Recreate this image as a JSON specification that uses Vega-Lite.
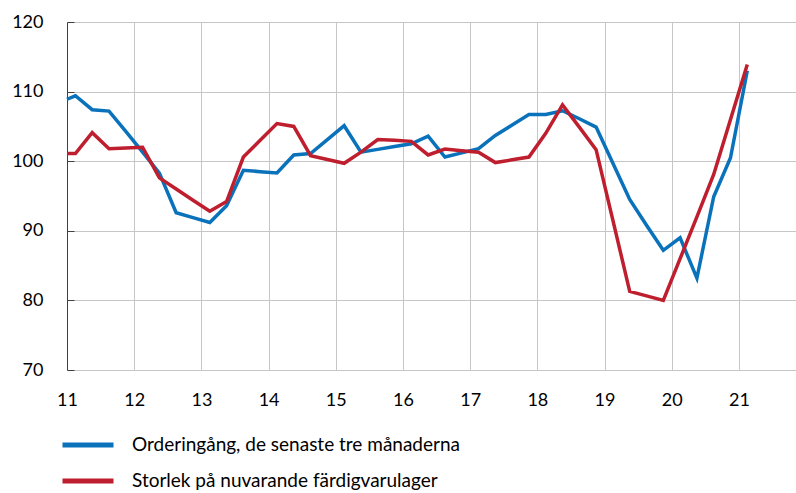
{
  "$schema": "https://vega.github.io/schema/vega-lite/v6.json",
  "width": 729,
  "height": 348,
  "autosize": {"type": "none"},
  "padding": {"left": 67, "top": 22, "right": 0, "bottom": 123},
  "background": "white",
  "config": {
    "view": {"stroke": null},
    "font": "Lato",
    "axis": {"labelFont": "Lato", "labelFontSize": 18, "labelColor": "#000000", "gridColor": "#c6c6c6", "gridWidth": 1, "title": null},
    "legend": {"labelFont": "Lato", "labelFontSize": 19, "labelColor": "#000000"}
  },
  "data": {
    "values": [
      {"t": 11.0, "serie": "Orderingång, de senaste tre månaderna", "v": 108.9},
      {"t": 11.125, "serie": "Orderingång, de senaste tre månaderna", "v": 109.4},
      {"t": 11.375, "serie": "Orderingång, de senaste tre månaderna", "v": 107.4},
      {"t": 11.625, "serie": "Orderingång, de senaste tre månaderna", "v": 107.2},
      {"t": 11.875, "serie": "Orderingång, de senaste tre månaderna", "v": 104.3},
      {"t": 12.125, "serie": "Orderingång, de senaste tre månaderna", "v": 101.3},
      {"t": 12.375, "serie": "Orderingång, de senaste tre månaderna", "v": 98.3},
      {"t": 12.625, "serie": "Orderingång, de senaste tre månaderna", "v": 92.6},
      {"t": 12.875, "serie": "Orderingång, de senaste tre månaderna", "v": 91.9},
      {"t": 13.125, "serie": "Orderingång, de senaste tre månaderna", "v": 91.2},
      {"t": 13.375, "serie": "Orderingång, de senaste tre månaderna", "v": 93.6},
      {"t": 13.625, "serie": "Orderingång, de senaste tre månaderna", "v": 98.7},
      {"t": 13.875, "serie": "Orderingång, de senaste tre månaderna", "v": 98.5},
      {"t": 14.125, "serie": "Orderingång, de senaste tre månaderna", "v": 98.3},
      {"t": 14.375, "serie": "Orderingång, de senaste tre månaderna", "v": 100.9},
      {"t": 14.625, "serie": "Orderingång, de senaste tre månaderna", "v": 101.1},
      {"t": 14.875, "serie": "Orderingång, de senaste tre månaderna", "v": 103.1},
      {"t": 15.125, "serie": "Orderingång, de senaste tre månaderna", "v": 105.1},
      {"t": 15.375, "serie": "Orderingång, de senaste tre månaderna", "v": 101.3},
      {"t": 15.625, "serie": "Orderingång, de senaste tre månaderna", "v": 101.7},
      {"t": 15.875, "serie": "Orderingång, de senaste tre månaderna", "v": 102.1},
      {"t": 16.125, "serie": "Orderingång, de senaste tre månaderna", "v": 102.5},
      {"t": 16.375, "serie": "Orderingång, de senaste tre månaderna", "v": 103.6},
      {"t": 16.625, "serie": "Orderingång, de senaste tre månaderna", "v": 100.6},
      {"t": 16.875, "serie": "Orderingång, de senaste tre månaderna", "v": 101.2},
      {"t": 17.125, "serie": "Orderingång, de senaste tre månaderna", "v": 101.8},
      {"t": 17.375, "serie": "Orderingång, de senaste tre månaderna", "v": 103.7},
      {"t": 17.625, "serie": "Orderingång, de senaste tre månaderna", "v": 105.2},
      {"t": 17.875, "serie": "Orderingång, de senaste tre månaderna", "v": 106.7},
      {"t": 18.125, "serie": "Orderingång, de senaste tre månaderna", "v": 106.7},
      {"t": 18.375, "serie": "Orderingång, de senaste tre månaderna", "v": 107.25},
      {"t": 18.625, "serie": "Orderingång, de senaste tre månaderna", "v": 106.1},
      {"t": 18.875, "serie": "Orderingång, de senaste tre månaderna", "v": 104.9},
      {"t": 19.125, "serie": "Orderingång, de senaste tre månaderna", "v": 99.7},
      {"t": 19.375, "serie": "Orderingång, de senaste tre månaderna", "v": 94.5},
      {"t": 19.625, "serie": "Orderingång, de senaste tre månaderna", "v": 90.8},
      {"t": 19.875, "serie": "Orderingång, de senaste tre månaderna", "v": 87.2},
      {"t": 20.125, "serie": "Orderingång, de senaste tre månaderna", "v": 89.0},
      {"t": 20.375, "serie": "Orderingång, de senaste tre månaderna", "v": 83.2},
      {"t": 20.625, "serie": "Orderingång, de senaste tre månaderna", "v": 94.9},
      {"t": 20.875, "serie": "Orderingång, de senaste tre månaderna", "v": 100.5},
      {"t": 21.125, "serie": "Orderingång, de senaste tre månaderna", "v": 113.0},
      {"t": 11.0, "serie": "Storlek på nuvarande färdigvarulager", "v": 101.1},
      {"t": 11.125, "serie": "Storlek på nuvarande färdigvarulager", "v": 101.1},
      {"t": 11.375, "serie": "Storlek på nuvarande färdigvarulager", "v": 104.1},
      {"t": 11.625, "serie": "Storlek på nuvarande färdigvarulager", "v": 101.8},
      {"t": 11.875, "serie": "Storlek på nuvarande färdigvarulager", "v": 101.9},
      {"t": 12.125, "serie": "Storlek på nuvarande färdigvarulager", "v": 102.0},
      {"t": 12.375, "serie": "Storlek på nuvarande färdigvarulager", "v": 97.6},
      {"t": 12.625, "serie": "Storlek på nuvarande färdigvarulager", "v": 96.0},
      {"t": 12.875, "serie": "Storlek på nuvarande färdigvarulager", "v": 94.4},
      {"t": 13.125, "serie": "Storlek på nuvarande färdigvarulager", "v": 92.8},
      {"t": 13.375, "serie": "Storlek på nuvarande färdigvarulager", "v": 94.2},
      {"t": 13.625, "serie": "Storlek på nuvarande färdigvarulager", "v": 100.6},
      {"t": 13.875, "serie": "Storlek på nuvarande färdigvarulager", "v": 103.0},
      {"t": 14.125, "serie": "Storlek på nuvarande färdigvarulager", "v": 105.4},
      {"t": 14.375, "serie": "Storlek på nuvarande färdigvarulager", "v": 105.0},
      {"t": 14.625, "serie": "Storlek på nuvarande färdigvarulager", "v": 100.8},
      {"t": 14.875, "serie": "Storlek på nuvarande färdigvarulager", "v": 100.25},
      {"t": 15.125, "serie": "Storlek på nuvarande färdigvarulager", "v": 99.7},
      {"t": 15.375, "serie": "Storlek på nuvarande färdigvarulager", "v": 101.3},
      {"t": 15.625, "serie": "Storlek på nuvarande färdigvarulager", "v": 103.1},
      {"t": 15.875, "serie": "Storlek på nuvarande färdigvarulager", "v": 103.0},
      {"t": 16.125, "serie": "Storlek på nuvarande färdigvarulager", "v": 102.85},
      {"t": 16.375, "serie": "Storlek på nuvarande färdigvarulager", "v": 100.9},
      {"t": 16.625, "serie": "Storlek på nuvarande färdigvarulager", "v": 101.75},
      {"t": 16.875, "serie": "Storlek på nuvarande färdigvarulager", "v": 101.5},
      {"t": 17.125, "serie": "Storlek på nuvarande färdigvarulager", "v": 101.3},
      {"t": 17.375, "serie": "Storlek på nuvarande färdigvarulager", "v": 99.8},
      {"t": 17.625, "serie": "Storlek på nuvarande färdigvarulager", "v": 100.2},
      {"t": 17.875, "serie": "Storlek på nuvarande färdigvarulager", "v": 100.6},
      {"t": 18.125, "serie": "Storlek på nuvarande färdigvarulager", "v": 104.0},
      {"t": 18.375, "serie": "Storlek på nuvarande färdigvarulager", "v": 108.1},
      {"t": 18.625, "serie": "Storlek på nuvarande färdigvarulager", "v": 104.9},
      {"t": 18.875, "serie": "Storlek på nuvarande färdigvarulager", "v": 101.65},
      {"t": 19.125, "serie": "Storlek på nuvarande färdigvarulager", "v": 91.5},
      {"t": 19.375, "serie": "Storlek på nuvarande färdigvarulager", "v": 81.3},
      {"t": 19.625, "serie": "Storlek på nuvarande färdigvarulager", "v": 80.65},
      {"t": 19.875, "serie": "Storlek på nuvarande färdigvarulager", "v": 80.0},
      {"t": 20.125, "serie": "Storlek på nuvarande färdigvarulager", "v": 86.0},
      {"t": 20.375, "serie": "Storlek på nuvarande färdigvarulager", "v": 92.0},
      {"t": 20.625, "serie": "Storlek på nuvarande färdigvarulager", "v": 98.1},
      {"t": 20.875, "serie": "Storlek på nuvarande färdigvarulager", "v": 106.0},
      {"t": 21.125, "serie": "Storlek på nuvarande färdigvarulager", "v": 113.9}
    ]
  },
  "mark": {"type": "line", "strokeWidth": 3.5, "strokeJoin": "miter", "interpolate": "linear"},
  "encoding": {
    "x": {
      "field": "t", "type": "quantitative",
      "scale": {"domain": [11, 21.85], "nice": false, "zero": false},
      "axis": {"values": [11, 12, 13, 14, 15, 16, 17, 18, 19, 20, 21], "format": "d", "domain": false, "ticks": false, "labelPadding": 21, "grid": true, "labelFlush": false}
    },
    "y": {
      "field": "v", "type": "quantitative",
      "scale": {"domain": [70, 120], "nice": false, "zero": false},
      "axis": {"values": [70, 80, 90, 100, 110, 120], "domain": true, "domainColor": "#404040", "domainWidth": 1, "ticks": true, "tickColor": "#404040", "tickSize": -7, "labelPadding": 31, "grid": true}
    },
    "color": {
      "field": "serie", "type": "nominal",
      "scale": {"domain": ["Orderingång, de senaste tre månaderna", "Storlek på nuvarande färdigvarulager"], "range": ["#0A72BA", "#BE1E2D"]},
      "legend": {
        "title": null, "orient": "none", "legendX": -7, "legendY": 408, "direction": "vertical",
        "symbolType": "stroke", "symbolSize": 2601, "symbolStrokeWidth": 5,
        "clipHeight": 30, "rowPadding": 6, "labelOffset": 16, "padding": 0, "offset": 0, "labelLimit": 600
      }
    }
  }
}
